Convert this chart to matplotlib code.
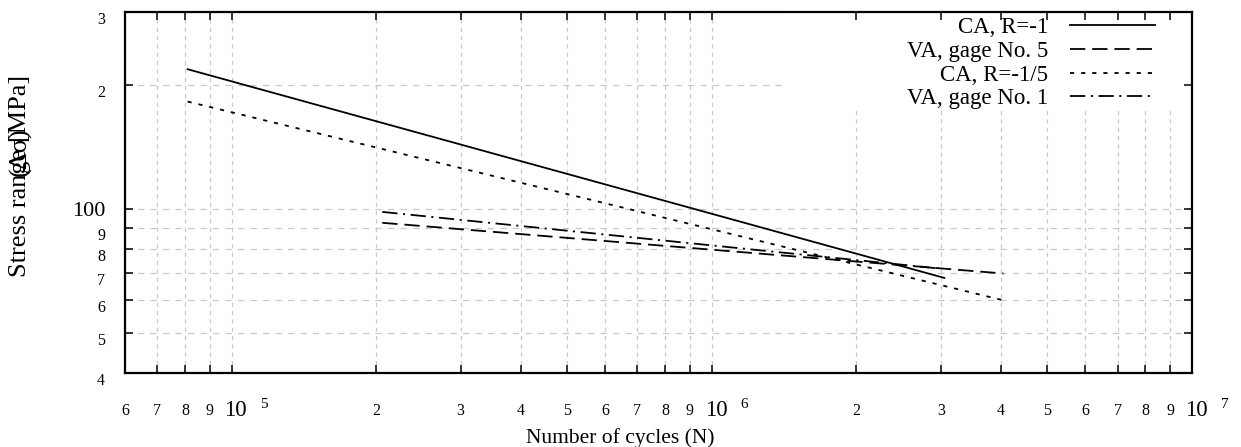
import matplotlib
matplotlib.use("Agg")
import matplotlib.pyplot as plt
from matplotlib.path import Path
from matplotlib.ticker import NullLocator
from matplotlib.transforms import offset_copy

plt.rcParams['font.family'] = ['Liberation Serif', 'DejaVu Serif']
plt.rcParams['lines.scale_dashes'] = False

# S-N curves: number of cycles vs stress range [MPa]
ca_r1_n = [8.1e4, 3.05e6]
ca_r1_s = [218, 68]
va_g5_n = [2.06e5, 4.05e6]
va_g5_s = [92.5, 69.7]
ca_r5_n = [8.1e4, 4.05e6]
ca_r5_s = [182, 60]
va_g1_n = [2.06e5, 3.0e6]
va_g1_s = [98.3, 71.6]

series_labels = ["CA, R=-1", "VA, gage No. 5", "CA, R=-1/5", "VA, gage No. 1"]

x_ticks = [6e4, 7e4, 8e4, 9e4, 1e5, 2e5, 3e5, 4e5, 5e5, 6e5, 7e5, 8e5, 9e5,
           1e6, 2e6, 3e6, 4e6, 5e6, 6e6, 7e6, 8e6, 9e6, 1e7]
x_tick_labels = ['6', '7', '8', '9', '10^5', '2', '3', '4', '5', '6', '7', '8', '9',
                 '10^6', '2', '3', '4', '5', '6', '7', '8', '9', '10^7']
y_ticks = [40, 50, 60, 70, 80, 90, 100, 200, 300]
y_tick_labels = ['4', '5', '6', '7', '8', '9', '100', '2', '3']

fig = plt.figure(figsize=(12.41, 4.47), dpi=100)
ax = fig.add_axes([125 / 1241, 1 - 373 / 447, 1067 / 1241, 361 / 447])
ax.set_xscale('log')
ax.set_yscale('log')
ax.set_xlim(6e4, 1e7)
ax.set_ylim(40, 300)

ax.plot(ca_r1_n, ca_r1_s, color='black', lw=1.3, label=series_labels[0])
ax.plot(va_g5_n, va_g5_s, color='black', lw=1.3, dashes=(11, 5), label=series_labels[1])
ax.plot(ca_r5_n, ca_r5_s, color='black', lw=1.3, dashes=(3, 5), label=series_labels[2])
ax.plot(va_g1_n, va_g1_s, color='black', lw=1.3, dashes=(11, 4, 1.5, 4), label=series_labels[3])

ax.set_xticks(x_ticks, [''] * len(x_ticks))
ax.set_yticks(y_ticks, [''] * len(y_ticks))
ax.xaxis.set_minor_locator(NullLocator())
ax.yaxis.set_minor_locator(NullLocator())
ax.tick_params(which='both', direction='in', length=5.5, width=1.1,
               top=True, right=True, labelbottom=False, labelleft=False)
for sp in ax.spines.values():
    sp.set_linewidth(1.6)

ax.xaxis.grid(True, color='#c8c8c8', lw=0.9, dashes=(3, 3))
ax.yaxis.grid(True, color='#c8c8c8', lw=0.9, dashes=(4.5, 4.5))

# keep the grid out of the key area (upper right)
kx, ky = (785 - 125) / 1067, (373 - 110) / 361
key_free = Path([(0, 0), (1, 0), (1, ky), (kx, ky), (kx, 1), (0, 1), (0, 0)], closed=True)
for tick in ax.xaxis.get_major_ticks() + ax.yaxis.get_major_ticks():
    tick.gridline.set_clip_path(key_free, ax.transAxes)

# tick labels
xtr = offset_copy(ax.get_xaxis_transform(), fig, x=0, y=-38, units='dots')
for xv, lab in zip(x_ticks, x_tick_labels):
    if '^' in lab:
        base, ex = lab.split('^')
        t1 = offset_copy(ax.get_xaxis_transform(), fig, x=-7, y=-38, units='dots')
        ax.text(xv, 0, base, transform=t1, ha='left', va='center', fontsize=16.5)
        t2 = offset_copy(ax.get_xaxis_transform(), fig, x=29, y=-31, units='dots')
        ax.text(xv, 0, ex, transform=t2, ha='left', va='center', fontsize=11)
    else:
        ax.text(xv, 0, lab, transform=xtr, ha='center', va='center', fontsize=11.5)

for yv, lab in zip(y_ticks, y_tick_labels):
    big = len(lab) > 1
    tr = offset_copy(ax.get_yaxis_transform(), fig, x=-20, y=-3 if big else -8, units='dots')
    ax.text(0, yv, lab, transform=tr, ha='right', va='center',
            fontsize=16 if big else 11.5)

fig.text(620 / 1241, 1 - 438 / 447, 'Number of cycles (N)', ha='center', va='center',
         fontsize=15.5)
# axis title as printed: "(Δσ)" overprinted on the word "range"
fig.text(20 / 1241, 1 - 176 / 447, 'Stress range [MPa]', rotation=90,
         ha='center', va='center', fontsize=19)
fig.text(20 / 1241, 1 - 152 / 447, '(Δσ)', rotation=90,
         ha='center', va='center', fontsize=19)

ax.legend(loc='upper right', bbox_to_anchor=((1155 - 125) / 1067, (373 - 17) / 361),
          frameon=False, markerfirst=False, fontsize=16.5, handlelength=3.7,
          handletextpad=0.95, labelspacing=0.12, borderpad=0, borderaxespad=0)

fig.savefig('out.png', dpi=100)
